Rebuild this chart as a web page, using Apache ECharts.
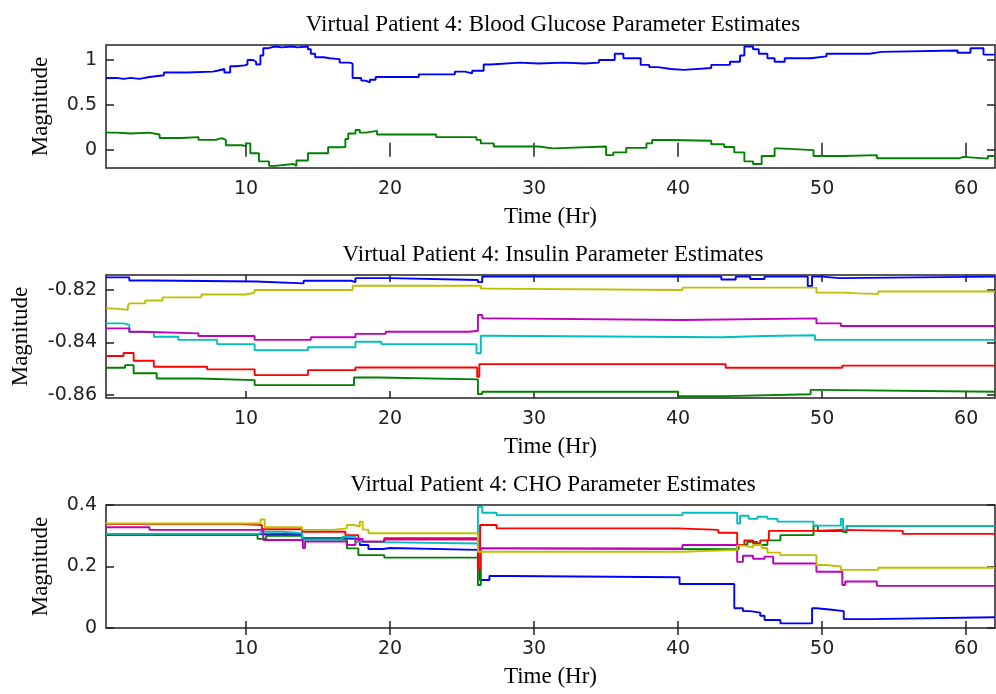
<!DOCTYPE html>
<html><head><meta charset="utf-8">
<script src="https://cdn.jsdelivr.net/npm/echarts@6/dist/echarts.min.js"></script>
<style>html,body{margin:0;padding:0;background:#fff}#c{width:996px;height:694px}</style>
</head><body><div id="c"></div>
<script>
// ---- Data (time in hours, magnitude) ----
var titles = ['Virtual Patient 4: Blood Glucose Parameter Estimates',
              'Virtual Patient 4: Insulin Parameter Estimates',
              'Virtual Patient 4: CHO Parameter Estimates'];
var xTicks = [10, 20, 30, 40, 50, 60];
var yTicks1 = [0, 0.5, 1];
var yTicks2 = [-0.86, -0.84, -0.82];
var yTicks3 = [0, 0.2, 0.4];

var bgBlue = [[0.28,0.80],[1.0,0.79],[1.5,0.80],[2.0,0.79],[2.6,0.81],[3.3,0.83],[4.3,0.86],[5.9,0.84],[6.0,0.87],[7.7,0.88],[8.0,0.90],[8.5,0.86],[8.9,0.93],[9.3,0.94],[9.9,0.95],[10.1,1.0],[10.5,0.98],[10.7,0.95],[11.0,1.05],[11.2,1.13],[11.5,1.15],[12.0,1.14],[12.5,1.15],[13.2,1.14],[13.6,1.15],[14.3,1.12],[14.5,1.07],[14.8,1.03],[15.4,1.02],[15.8,1.01],[16.5,0.97],[17.2,0.96],[17.4,0.80],[18.0,0.77],[18.3,0.75],[18.6,0.78],[19.0,0.81],[20.5,0.81],[22.0,0.84],[24.5,0.87],[25.2,0.85],[25.7,0.88],[26.5,0.95],[27.0,0.97],[29.0,0.96],[30.3,0.97],[32.0,0.96],[33.5,0.97],[34.5,1.00],[35.6,1.07],[36.2,1.02],[37.4,0.945],[38.0,0.92],[38.6,0.90],[39.5,0.89],[40.4,0.91],[42.3,0.945],[43.6,0.98],[44.3,1.05],[44.6,1.15],[45.2,1.12],[45.6,1.07],[46.2,1.02],[46.7,0.98],[47.4,1.02],[49.2,1.04],[50.3,1.07],[53.3,1.09],[54.1,1.105],[59.4,1.08],[60.3,1.13],[61.2,1.06],[62,1.06]];
var bgGreen = [[0.28,0.19],[1.0,0.18],[2.0,0.19],[3.3,0.17],[4.0,0.13],[5.5,0.14],[6.7,0.11],[7.9,0.13],[8.3,0.11],[8.6,0.05],[9.7,0.04],[10.0,0.07],[10.3,-0.04],[10.9,-0.13],[11.6,-0.18],[12.0,-0.16],[13.3,-0.18],[13.5,-0.12],[14.3,-0.04],[15.7,0.027],[16.6,0.03],[16.9,0.12],[17.1,0.18],[17.6,0.22],[17.9,0.19],[18.3,0.21],[19.1,0.17],[23.2,0.14],[26.0,0.11],[26.3,0.07],[27.2,0.035],[30.3,0.015],[31.3,0.035],[35.0,-0.06],[35.5,-0.03],[36.4,0.02],[37.8,0.07],[38.2,0.108],[39.4,0.10],[42.3,0.06],[43.2,0.03],[43.9,-0.03],[44.6,-0.13],[45.2,-0.16],[45.8,-0.07],[46.7,0.015],[47.0,-0.005],[49.4,-0.07],[51.5,-0.06],[53.8,-0.096],[59.5,-0.08],[59.8,-0.10],[61.5,-0.07],[62,-0.07]];

var insBlue = [[0.28,-0.8152],[1.9,-0.8164],[3.6,-0.8168],[10.7,-0.8175],[14.0,-0.8165],[17.3,-0.8170],[17.6,-0.8155],[20.0,-0.8162],[26.1,-0.8170],[26.4,-0.8149],[43.0,-0.8160],[44.0,-0.8149],[45.0,-0.8158],[46.0,-0.8149],[49.0,-0.8185],[49.3,-0.8149],[50.0,-0.8155],[51.2,-0.8149],[62,-0.8149]];
var insGreen = [[0.28,-0.8496],[1.6,-0.8486],[2.2,-0.8517],[3.8,-0.8537],[6.7,-0.8543],[10.6,-0.8562],[17.5,-0.8533],[19.2,-0.8540],[26.1,-0.8596],[26.4,-0.8587],[40.0,-0.8604],[43.3,-0.8597],[49.2,-0.8580],[49.7,-0.8587],[62,-0.8587]];
var insRed = [[0.28,-0.8451],[1.5,-0.8440],[2.2,-0.8469],[3.6,-0.8492],[7.3,-0.8502],[10.6,-0.8524],[14.3,-0.8505],[17.6,-0.8495],[26.05,-0.8530],[26.2,-0.8482],[43.3,-0.8496],[51.4,-0.8488],[62,-0.8488]];
var insCyan = [[0.28,-0.8327],[1.5,-0.8333],[1.9,-0.8360],[3.6,-0.8378],[5.3,-0.8390],[8.0,-0.8406],[10.6,-0.8429],[14.3,-0.8418],[17.6,-0.8397],[19.4,-0.8406],[26.0,-0.8441],[26.3,-0.8374],[27.0,-0.8380],[43.0,-0.8375],[46.0,-0.8372],[49.5,-0.8390],[62,-0.8390]];
var insMagenta = [[0.28,-0.8346],[1.9,-0.8359],[2.8,-0.8365],[6.7,-0.8375],[10.6,-0.8390],[14.5,-0.8380],[17.6,-0.8367],[19.7,-0.8359],[25.5,-0.8355],[26.1,-0.8295],[26.4,-0.8308],[27.3,-0.8314],[40.3,-0.8308],[49.6,-0.8327],[51.3,-0.8337],[62,-0.8337]];
var insYellow = [[0.28,-0.8270],[0.6,-0.8275],[1.8,-0.8260],[1.9,-0.8251],[3.0,-0.8240],[4.2,-0.8228],[6.9,-0.8217],[10.0,-0.8210],[10.6,-0.8200],[17.4,-0.8184],[26.3,-0.8195],[26.8,-0.8200],[40.3,-0.8191],[49.6,-0.8210],[51.5,-0.8213],[52.5,-0.8215],[53.9,-0.8206],[62,-0.8206]];

var choBlue = [[0.28,0.302],[4.2,0.306],[13.9,0.292],[16.7,0.29],[17.9,0.27],[18.5,0.257],[19.5,0.260],[20.0,0.254],[26.1,0.19],[26.25,0.156],[26.9,0.169],[28.2,0.165],[40.1,0.143],[43.9,0.064],[44.5,0.055],[45.0,0.05],[45.7,0.040],[46.0,0.026],[47.1,0.015],[49.3,0.064],[49.6,0.060],[50.5,0.055],[51.5,0.029],[53.3,0.035],[62,0.035]];
var choGreen = [[0.28,0.302],[10.8,0.29],[11.4,0.300],[13.9,0.288],[17.0,0.259],[17.8,0.237],[19.6,0.229],[26.1,0.14],[26.3,0.259],[27.8,0.256],[44.2,0.270],[44.8,0.28],[45.5,0.27],[46.2,0.285],[47.1,0.302],[49.4,0.333],[49.7,0.315],[51.3,0.31],[51.7,0.332],[62,0.332]];
var choRed = [[0.28,0.338],[9.7,0.335],[11.1,0.321],[13.9,0.313],[16.9,0.302],[17.8,0.281],[19.6,0.292],[26.1,0.19],[26.25,0.335],[27.4,0.324],[40.0,0.319],[42.8,0.310],[44.1,0.270],[44.6,0.285],[45.2,0.275],[45.7,0.285],[46.3,0.316],[49.4,0.319],[51.3,0.316],[55.6,0.306],[62,0.306]];
var choCyan = [[0.28,0.306],[11.0,0.313],[12.5,0.308],[13.9,0.288],[16.7,0.297],[17.6,0.280],[17.9,0.275],[26.1,0.394],[26.4,0.375],[27.4,0.367],[40.3,0.375],[44.1,0.34],[44.3,0.365],[44.9,0.355],[45.5,0.362],[46.2,0.355],[46.9,0.346],[49.4,0.333],[51.3,0.355],[51.45,0.32],[51.7,0.332],[62,0.332]];
var choMagenta = [[0.28,0.3275],[3.3,0.319],[11.2,0.286],[13.95,0.26],[14.1,0.281],[17.0,0.27],[17.6,0.29],[18.1,0.281],[19.6,0.288],[26.2,0.259],[40.3,0.270],[44.1,0.215],[44.5,0.235],[45.2,0.225],[46.0,0.232],[46.6,0.210],[49.6,0.183],[51.4,0.140],[51.6,0.151],[53.8,0.137],[62,0.137]];
var choYellow = [[0.28,0.340],[11.0,0.353],[11.3,0.3275],[13.9,0.319],[16.0,0.324],[17.0,0.335],[17.5,0.330],[17.9,0.346],[18.1,0.320],[18.5,0.308],[26.1,0.248],[40.3,0.254],[44.1,0.268],[44.6,0.262],[45.2,0.270],[45.8,0.260],[46.2,0.245],[47.1,0.237],[49.6,0.205],[50.3,0.200],[51.3,0.189],[53.9,0.196],[62,0.196]];

// ---- Styles ----
var C = {blue:'#0000ff', green:'#008000', red:'#ff0000', cyan:'#00bfbf', magenta:'#bf00bf', yellow:'#bfbf00'};
var serif = 'Liberation Serif';
var sans = 'DejaVu Sans';
var xMin = 0.28, xMax = 62;
var yRanges = [[-0.204, 1.167], [-0.8611, -0.8143], [0, 0.4]];
var yTickSets = [yTicks1, yTicks2, yTicks3];
var tops = [45, 275, 505];
var gridH = 123;
var nameGaps = [54, 74, 54];
var titleTops = [8, 238, 468];

var grids = [], xAxes = [], yAxes = [], titleArr = [];
for (var i = 0; i < 3; i++) {
  grids.push({left:106, right:1, top:tops[i], height:gridH, show:true, borderColor:'#222', borderWidth:1.5, backgroundColor:'#fff'});
  titleArr.push({text:titles[i], left:548, top:titleTops[i], textAlign:'center',
    textStyle:{fontFamily:serif, fontWeight:'normal', fontSize:23, color:'#000'}});
  xAxes.push({type:'value', gridIndex:i, min:xMin, max:xMax, position:'bottom',
    name:'Time (Hr)', nameLocation:'middle', nameGap:37,
    nameTextStyle:{fontFamily:serif, fontSize:23, color:'#000'},
    axisLine:{show:false}, splitLine:{show:false},
    axisTick:{show:true, inside:true, length:7, customValues:xTicks, lineStyle:{color:'#222', width:1.5}},
    axisLabel:{show:true, customValues:xTicks, margin:12, fontFamily:sans, fontSize:19, color:'#222'}});
  xAxes.push({type:'value', gridIndex:i, min:xMin, max:xMax, position:'top',
    axisLine:{show:false}, splitLine:{show:false},
    axisTick:{show:true, inside:true, length:7, customValues:xTicks, lineStyle:{color:'#222', width:1.5}},
    axisLabel:{show:false}});
  yAxes.push({type:'value', gridIndex:i, min:yRanges[i][0], max:yRanges[i][1], position:'left',
    name:'Magnitude', nameLocation:'middle', nameGap:nameGaps[i], nameRotate:90,
    nameTextStyle:{fontFamily:serif, fontSize:23, color:'#000'},
    axisLine:{show:false}, splitLine:{show:false},
    axisTick:{show:true, inside:true, length:8, customValues:yTickSets[i], lineStyle:{color:'#222', width:1.5}},
    axisLabel:{show:true, customValues:yTickSets[i], margin:9, fontFamily:sans, fontSize:19, color:'#222',
      formatter:function(v){return String(Math.round(v*100)/100);}}});
  yAxes.push({type:'value', gridIndex:i, min:yRanges[i][0], max:yRanges[i][1], position:'right',
    axisLine:{show:false}, splitLine:{show:false},
    axisTick:{show:true, inside:true, length:8, customValues:yTickSets[i], lineStyle:{color:'#222', width:1.5}},
    axisLabel:{show:false}});
}

function mk(data, color, g) {
  return {type:'line', data:data, xAxisIndex:g*2, yAxisIndex:g*2, step:'end', showSymbol:false, symbol:'none',
    lineStyle:{color:color, width:1.9}, itemStyle:{color:color}, animation:false, silent:true, clip:true};
}
var series = [
  mk(bgBlue, C.blue, 0), mk(bgGreen, C.green, 0),
  mk(insBlue, C.blue, 1), mk(insGreen, C.green, 1), mk(insRed, C.red, 1), mk(insCyan, C.cyan, 1), mk(insMagenta, C.magenta, 1), mk(insYellow, C.yellow, 1),
  mk(choBlue, C.blue, 2), mk(choGreen, C.green, 2), mk(choRed, C.red, 2), mk(choCyan, C.cyan, 2), mk(choMagenta, C.magenta, 2), mk(choYellow, C.yellow, 2)
];

var chart = echarts.init(document.getElementById('c'), null, {renderer:'canvas'});
chart.setOption({animation:false, backgroundColor:'#fff', title:titleArr, grid:grids, xAxis:xAxes, yAxis:yAxes, series:series});
</script></body></html>
